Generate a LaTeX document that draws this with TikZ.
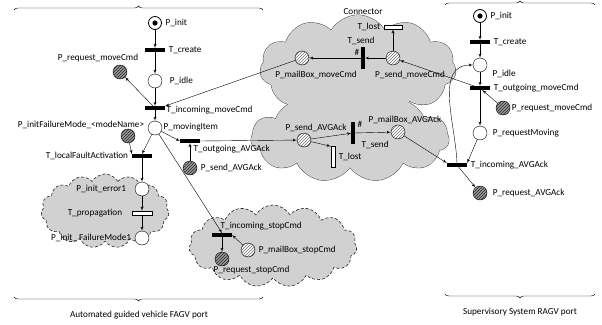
\documentclass[tikz,border=0pt]{standalone}
\usepackage{fontspec}
\setmainfont{Carlito}
\usetikzlibrary{positioning}
\usetikzlibrary{arrows}
\usetikzlibrary{shapes}
\usetikzlibrary{patterns}
\usetikzlibrary{decorations.pathreplacing}

\begin{document}
\begin{tikzpicture} [
   x=1pt, y=-1pt,               % pixel grid, origin top left
   node distance=2pt and 3pt,   % label spacing
   ]
% -------------------------------------------------
\tikzset{
  place/.style={circle, draw, fill=white, minimum size=14pt, inner sep=0pt},
  init/.style={place, thick, minimum size=13pt, path picture={\fill[black] (path picture bounding box.center) circle (2.6pt);}},
  msg/.style={place, preaction={fill=white}, pattern=north east lines, pattern color=black!55},
  req/.style={place, preaction={fill=black!40}, pattern=north east lines, pattern color=black!85},
  trans/.style={rectangle, fill=black, inner sep=0pt, minimum width=20pt, minimum height=3.6pt},
  vtrans/.style={trans, minimum width=3.2pt, minimum height=22pt},
  lost/.style={rectangle, draw, fill=white, inner sep=0pt, minimum width=18pt, minimum height=4pt},
  vlost/.style={lost, minimum width=4pt, minimum height=21pt},
  lbl/.style={inner sep=0.5pt, font=\fontsize{9.2}{11}\selectfont},
  bubble/.style={cloud, cloud puffs=15, cloud puff arc=120, fill=black!18, draw=black!85, densely dashed, semithick},
  conn/.style={cloud, cloud puffs=11, cloud puff arc=120},
  line/.style={draw, -latex'},
  port/.style={draw, decorate, decoration={brace, amplitude=4pt}}
}

    \useasboundingbox (0,0) rectangle (602,324);

    % clouds
    \node [bubble, aspect=1.7, minimum width=128pt, minimum height=74pt] (fcloud) at (105,211) {};
    \node [bubble, aspect=2.0, minimum width=168pt, minimum height=82pt] (scloud) at (273,246) {};
    \node [conn, draw=black!75, line width=0.9pt, aspect=1.9, minimum width=196pt, minimum height=106pt] (ctop) at (358,68) {};
    \node [conn, draw=black!75, line width=0.9pt, aspect=2.3, minimum width=198pt, minimum height=88pt] (cbot) at (350,138) {};
    \node [conn, fill=black!18, aspect=1.9, minimum width=196pt, minimum height=106pt] (ctopfill) at (358,68) {};
    \node [conn, fill=black!18, aspect=2.3, minimum width=198pt, minimum height=88pt] (cbotfill) at (350,138) {};

    % AGV port
    \node [init] (pinitA) at (155,23) {};
    \node [trans] (tcreateA) at (155,50) {};
    \node [place] (pidleA) at (155,81) {};
    \node [req] (preqmoveA) at (120,72) {};
    \node [trans] (tinmoveA) at (155,108) {};
    \node [place] (pmovA) at (155,128) {};
    \node [req] (pfailA) at (128,136) {};
    \node [trans] (tfaultA) at (142,156) {};
    \node [place] (perrA) at (142,189) {};
    \node [lost, minimum width=20pt] (tpropA) at (142,213) {};
    \node [place] (pfm1A) at (142,238) {};
    \node [trans] (toutackA) at (190,141) {};
    \node [req] (psendackA) at (190,168) {};
    \node [trans] (tinstopA) at (222,235) {};
    \node [msg] (pmbstopA) at (248,250) {};
    \node [req] (preqstopA) at (222,259) {};

    % connector
    \node [lost] (tlostT) at (393,27) {};
    \node [vtrans] (tsendT) at (363,58) {};
    \node [msg] (psendmoveC) at (393,58) {};
    \node [msg] (pmbmoveC) at (302,58) {};
    \node [msg] (psendackC) at (304,140) {};
    \node [vtrans] (tsendB) at (353,133) {};
    \node [msg] (pmbackC) at (398,132) {};
    \node [vlost] (tlostB) at (333,157) {};

    % supervisory port
    \node [init] (pinitB) at (480,16) {};
    \node [trans] (tcreateB) at (480,42) {};
    \node [place] (pidleB) at (480,65) {};
    \node [trans] (toutmoveB) at (480,88) {};
    \node [req] (preqmoveB) at (503,108) {};
    \node [place] (preqmovingB) at (480,133) {};
    \node [trans] (tinackB) at (457,165) {};
    \node [req] (preqackB) at (480,193) {};

    % labels
    \node [lbl, right=of pinitA] (lpinitA) {P\_init};
    \node [lbl, right=of tcreateA] (ltcreateA) {T\_create};
    \node [lbl, right=7pt of pidleA] (lpidleA) {P\_idle};
    \node [lbl] (lpreqmoveA) at (98,58) {P\_request\_moveCmd};
    \node [lbl, anchor=west] (ltinmoveA) at (166,110) {T\_incoming\_moveCmd};
    \node [lbl, anchor=west] (lpmovA) at (163,127) {P\_movingItem};
    \node [lbl] (lpfailA) at (81,125) {P\_initFailureMode\_<modeName>};
    \node [lbl, left=of tfaultA] (ltfaultA) {T\_localFaultActivation};
    \node [lbl, anchor=west] (ltoutackA) at (193,149) {T\_outgoing\_AVGAck};
    \node [lbl, right=of psendackA] (lpsendackA) {P\_send\_AVGAck};
    \node [lbl, left=8pt of perrA] (lperrA) {P\_init\_error1};
    \node [lbl, left=9pt of tpropA] (ltpropA) {T\_propagation};
    \node [lbl, left=of pfm1A] (lpfm1A) {P\_init\_ FailureMode1};
    \node [lbl, anchor=west] (ltinstopA) at (220,226) {T\_incoming\_stopCmd};
    \node [lbl, right=of pmbstopA] (lpmbstopA) {P\_mailBox\_stopCmd};
    \node [lbl, anchor=west] (lpreqstopA) at (213,270) {P\_request\_stopCmd};

    \node [lbl] (lconn) at (363,12) {Connector};
    \node [lbl, left=of tlostT] (ltlostT) {T\_lost};
    \node [lbl] (ltsendT) at (361,41) {T\_send};
    \node [lbl] (lhashT) at (357,52) {\#};
    \node [lbl] (lpmbmoveC) at (316,75) {P\_mailBox\_moveCmd};
    \node [lbl] (lpsendmoveC) at (410,75) {P\_send\_moveCmd};
    \node [lbl] (lpsendackC) at (316,128) {P\_send\_AVGAck};
    \node [lbl] (lhashB) at (360,124) {\#};
    \node [lbl, anchor=west] (ltsendB) at (361,145) {T\_send};
    \node [lbl] (lpmbackC) at (405,120) {P\_mailBox\_AVGAck};
    \node [lbl, right=of tlostB] (ltlostB) {T\_lost};

    \node [lbl, right=of pinitB] (lpinitB) {P\_init};
    \node [lbl, right=of tcreateB] (ltcreateB) {T\_create};
    \node [lbl, anchor=west] (lpidleB) at (492,74) {P\_idle};
    \node [lbl, right=of toutmoveB] (ltoutmoveB) {T\_outgoing\_moveCmd};
    \node [lbl, right=1pt of preqmoveB] (lpreqmoveB) {P\_request\_moveCmd};
    \node [lbl, right=5pt of preqmovingB] (lpreqmovingB) {P\_requestMoving};
    \node [lbl, right=of tinackB] (ltinackB) {T\_incoming\_AVGAck};
    \node [lbl, right=5pt of preqackB] (lpreqackB) {P\_request\_AVGAck};

    % ports
    \draw [port] (14,10) -- (263,10);
    \draw [port] (263,297) -- (14,297);
    \node [lbl] (lportA) at (139,315) {Automated guided vehicle FAGV port};
    \draw [port] (445,5) -- (595,5);
    \draw [port] (595,294) -- (445,294);
    \node [lbl] (lportB) at (520,312) {Supervisory System RAGV port};

    % arcs, AGV port
    \path [line] (pinitA) -- (tcreateA);
    \path [line] (tcreateA) -- (pidleA);
    \path [line] (pidleA) -- (tinmoveA);
    \path [line] (tinmoveA) -- (preqmoveA);
    \path [line] (pmbmoveC) -- (tinmoveA.north east);
    \path [line] (tinmoveA) -- (pmovA);
    \path [line] (pmovA) -- (tfaultA.north);
    \path [line] (pfailA) -- (tfaultA.north west);
    \path [line] (tfaultA) -- (perrA);
    \path [line] (perrA) -- (tpropA);
    \path [line] (tpropA) -- (pfm1A);
    \path [line] (pmovA) -- (toutackA.west);
    \path [line] (psendackA) -- (toutackA);
    \path [line] (toutackA.east) -- (psendackC);
    \path [line] (pmovA) -- (tinstopA.north);
    \path [line] (pmbstopA) -- (tinstopA.east);
    \path [line] (tinstopA) -- (preqstopA);

    % arcs, connector
    \path [line] (psendmoveC) -- (tlostT);
    \path [line] (psendmoveC) -- (tsendT);
    \path [line] (tsendT) -- (pmbmoveC);
    \path [line] (psendackC) -- (tsendB);
    \path [line] (tsendB) -- (pmbackC);
    \path [line] (psendackC) -- (tlostB.north west);

    % arcs, supervisory port
    \path [line] (pinitB) -- (tcreateB);
    \path [line] (tcreateB) -- (pidleB);
    \path [line] (pidleB) -- (toutmoveB);
    \path [line] (toutmoveB) -- (psendmoveC);
    \path [line] (preqmoveB) -- (toutmoveB);
    \path [line] (toutmoveB) -- (preqmovingB);
    \path [line] (preqmovingB) -- (tinackB.north east);
    \path [line] (pmbackC) -- (tinackB.north west);
    \path [line] (tinackB) -- (preqackB);
    \path [line] (tinackB.north) to[out=92, in=180] (pidleB.west);

\end{tikzpicture}
\end{document}
